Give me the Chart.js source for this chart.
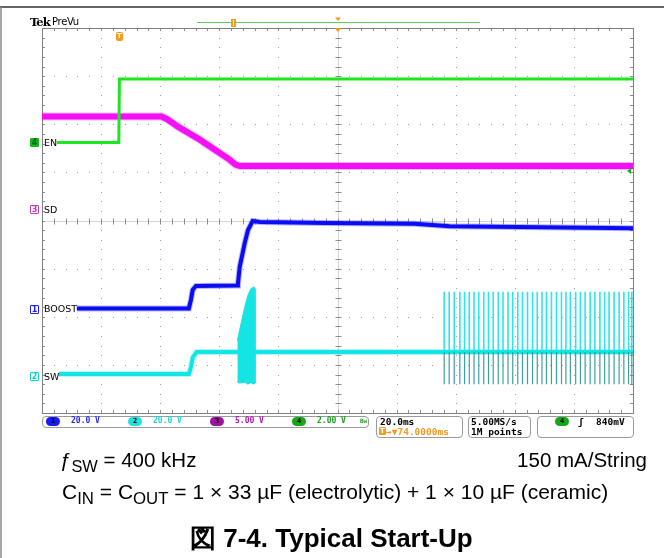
<!DOCTYPE html>
<html>
<head>
<meta charset="utf-8">
<script src="https://cdn.jsdelivr.net/npm/chart.js@4.4.1/dist/chart.umd.min.js"></script>
<style>
  body { margin: 0; background: #fff; }
  #wrap { position: relative; width: 664px; height: 558px; overflow: hidden; background: #fff; }
  #scope { position: absolute; left: 0; top: 0; }
  .t { position: absolute; white-space: nowrap; line-height: 1; }
  .scopefont { font-family: "DejaVu Sans Mono", monospace; font-weight: bold; }
  .box { position: absolute; border: 1px solid #9a9a9a; border-radius: 4px; box-sizing: border-box; }
  .dot { position: absolute; width: 14px; height: 9px; border-radius: 5px; font: bold 7px "DejaVu Sans Mono", monospace;
         color: #000; text-align: center; line-height: 9px; }
  .tag { position: absolute; width: 9px; height: 9px; box-sizing: border-box; border: 1px solid; border-radius: 1px;
         font: bold 8px "DejaVu Sans", sans-serif; text-align: center; line-height: 7px; }
  .lbl { position: absolute; font: 9.5px "DejaVu Sans", sans-serif; color: #000; line-height: 1; }
  .cap { position: absolute; font-family: "Liberation Sans", Arial, sans-serif; color: #000; white-space: nowrap; }
  .cap sub { font-size: 0.8em; vertical-align: -0.3em; line-height: 0; }
</style>
</head>
<body>
<div id="wrap">
  <canvas id="scope" width="664" height="558"></canvas>

  <!-- header -->
  <div class="t" style="left:30px; top:15px; font: bold 11.5px 'DejaVu Serif', serif; letter-spacing:-0.9px;">Tek</div>
  <div class="t" style="left:52px; top:16px; font: 10px 'DejaVu Sans', sans-serif; letter-spacing:-0.3px;">PreVu</div>
  <div class="t" style="left:116px; top:32px; width:7px; height:9px; background:#f59a1a; border-radius:2px; color:#fff;
       font: bold 7px 'DejaVu Sans', sans-serif; text-align:center; line-height:9px;">T</div>

  <!-- status bar -->
  <div class="box" style="left:42px; top:416px; width:327px; height:12px;"></div>
  <div class="box" style="left:376px; top:416px; width:87px; height:22px;"></div>
  <div class="box" style="left:468px; top:416px; width:63px; height:22px;"></div>
  <div class="box" style="left:537px; top:416px; width:97px; height:22px;"></div>

  <div class="t scopefont" style="left:380px; top:417px; font-size:9.5px; color:#000;">20.0ms</div>
  <div class="t" style="left:379px; top:427px; width:7px; height:8px; background:#f59a1a; border-radius:1px; color:#fff;
       font: bold 7px 'DejaVu Sans', sans-serif; text-align:center; line-height:8px;">T</div>
  <div class="t scopefont" style="left:386px; top:427px; font-size:9.5px; color:#f59a1a;">&#8594;&#9660;74.0000ms</div>
  <div class="t scopefont" style="left:471px; top:417px; font-size:9.5px; color:#000;">5.00MS/s</div>
  <div class="t scopefont" style="left:471px; top:427px; font-size:9.5px; color:#000;">1M points</div>
  <div class="dot" style="left:555px; top:417px; background:#14a814;">4</div>
  <div class="t scopefont" style="left:578px; top:417px; font-size:9.5px; color:#000;">&#643;</div>
  <div class="t scopefont" style="left:596px; top:417px; font-size:9.5px; color:#000;">840mV</div>

  <!-- captions -->
  <div class="cap" style="left:60px; top:448px; font-size:20.5px;">ƒ<sub>SW</sub> = 400 kHz</div>
  <div class="cap" style="right:17px; top:448px; font-size:20.5px;">150 mA/String</div>
  <div class="cap" style="left:62px; top:480px; font-size:21px;">C<sub>IN</sub> = C<sub>OUT</sub> = 1 × 33 µF (electrolytic) + 1 × 10 µF (ceramic)</div>
  <div class="cap" style="left:190px; top:521px; font-size:26px; font-weight:bold;">図 7-4. Typical Start-Up</div>
</div>

<script>
// Horizontal axis: ms relative to trigger (20 ms/div). Vertical axis: screen divisions (0 bottom .. 8 top)
const timeRange = [-26, 174];
const divRange = [0, 8];

// CH4 EN (2.00 V/div)
const enTime  = [-21.0, 0.0, 0.2, 174.0];
const enLevel = [5.62, 5.62, 6.94, 6.94];

// CH3 SD (5.00 V/div)
const sdTime  = [-26.0, 14.5, 16.5, 20.0, 27.4, 37.6, 39.5, 41.0, 174.0];
const sdLevel = [6.16, 6.16, 6.10, 5.95, 5.68, 5.26, 5.16, 5.13, 5.13];

// CH1 BOOST (20.0 V/div)
const boostTime  = [-14.2, 23.7, 24.4, 25.0, 26.1, 40.0, 40.3, 40.9, 42.6, 43.7, 45.3, 47.7, 70.0, 100.0, 112.0, 174.0];
const boostLevel = [2.17, 2.17, 2.35, 2.56, 2.64, 2.65, 2.68, 3.03, 3.53, 3.80, 3.99, 3.97, 3.95, 3.93, 3.88, 3.84];

// CH2 SW (20.0 V/div)
const swTime  = [-20.3, 23.7, 24.4, 25.0, 26.4, 174.0];
const swLevel = [0.81, 0.81, 0.95, 1.15, 1.27, 1.27];

// SW soft-start burst envelope
const burstTime   = [40.1, 40.9, 42.6, 43.7, 44.7, 45.7, 46.4];
const burstTop    = [1.50, 1.73, 2.20, 2.45, 2.58, 2.62, 2.56];
const burstBottom = [0.64, 0.62, 0.64, 0.60, 0.63, 0.60, 0.64];

// SW switching pulses after regulation settles
const pulseTime = [110.1, 111.8, 113.5, 115.4, 117.0, 118.6, 120.2, 121.8, 123.5, 125.1,
                   126.7, 128.4, 130.0, 131.7, 133.3, 135.0, 136.6, 138.3, 140.0, 141.6,
                   143.2, 144.7, 146.4, 148.1, 149.8, 151.3, 152.8, 154.6, 156.2, 157.8,
                   159.5, 161.1, 162.8, 164.4, 165.9, 167.6, 169.3, 170.9, 172.5, 173.6];
const pulseTop = 2.52;
const pulseBase = 1.27;
const pulseBottom = 0.60;

// channel ground markers
const chanNum   = ['4', '3', '1', '2'];
const chanName  = ['EN', 'SD', 'BOOST', 'SW'];
const chanLevel = [5.62, 4.22, 2.16, 0.75];
const chanColor = ['#14b814', '#c040c0', '#2020f0', '#10d0d0'];

// vertical scale readouts
const scaleNum   = ['1', '2', '3', '4'];
const scaleText  = ['20.0 V', '20.0 V', '5.00 V', '2.00 V'];
const scaleColor = ['#2a2af0', '#1ed8d8', '#b01cb0', '#1ea01e'];
const scaleDot   = ['#1818f8', '#22e0e0', '#a010a0', '#14a814'];

const triggerLevel = 5.03;

function pts(xs, ys) {
  return xs.map((x, i) => ({ x: x, y: ys[i] }));
}

function pulsePts(from, to) {
  const out = [];
  pulseTime.forEach(t => {
    out.push({ x: t, y: from }, { x: t, y: to }, { x: t, y: null });
  });
  return out;
}

function trace(data, color, width) {
  return { data: data, showLine: true, borderColor: color, borderWidth: width, pointRadius: 0,
           fill: false, tension: 0, spanGaps: false };
}

const green = '#1ee61e';
const magenta = '#f410f4';
const blue = '#0c0cf4';
const cyan = '#14e4e4';

const datasets = [
  trace(pts(enTime, enLevel), green, 3),
  trace(pts(sdTime, sdLevel), 'rgba(244,16,244,0.3)', 8),
  trace(pts(sdTime, sdLevel), magenta, 6),
  trace(pts(boostTime, boostLevel), 'rgba(12,12,244,0.3)', 6),
  trace(pts(boostTime, boostLevel), blue, 4),
  trace(pulsePts(pulseBase, pulseTop), 'rgba(20,228,228,0.9)', 1.6),
  trace(pulsePts(pulseBase, pulseBottom), 'rgba(40,150,150,0.9)', 1.2),
  trace(pts(swTime, swLevel), 'rgba(20,228,228,0.3)', 6),
  trace(pts(swTime, swLevel), cyan, 4),
  Object.assign(trace(pts(burstTime, burstTop), cyan, 1), { fill: '+1', backgroundColor: cyan }),
  trace(pts(burstTime, burstBottom), cyan, 1)
];

const graticule = {
  id: 'graticule',
  beforeDatasetsDraw(chart) {
    const { ctx, chartArea: a, scales: { x, y } } = chart;
    const xStep = (timeRange[1] - timeRange[0]) / 10;
    const xs = i => Math.round(x.getPixelForValue(timeRange[0] + i * xStep / 5)) + 0.5;
    const ys = j => Math.round(y.getPixelForValue(j / 5)) + 0.5;
    ctx.save();
    // dotted major lines
    ctx.fillStyle = '#a0a0a0';
    for (let i = 5; i < 50; i += 5) {
      for (let j = 0; j <= 40; j++) ctx.fillRect(xs(i) - 0.5, ys(j) - 0.5, 1, 1);
    }
    for (let j = 5; j < 40; j += 5) {
      for (let i = 0; i <= 50; i++) ctx.fillRect(xs(i) - 0.5, ys(j) - 0.5, 1, 1);
    }
    // centre cross
    ctx.strokeStyle = '#d4d4d4';
    ctx.lineWidth = 1;
    ctx.beginPath();
    ctx.moveTo(a.left, ys(20)); ctx.lineTo(a.right, ys(20));
    ctx.moveTo(xs(25), a.top); ctx.lineTo(xs(25), a.bottom);
    ctx.stroke();
    ctx.strokeStyle = '#8c8c8c';
    ctx.beginPath();
    for (let i = 0; i <= 50; i++) { ctx.moveTo(xs(i), ys(20) - 3); ctx.lineTo(xs(i), ys(20) + 3); }
    for (let j = 0; j <= 40; j++) { ctx.moveTo(xs(25) - 3, ys(j)); ctx.lineTo(xs(25) + 3, ys(j)); }
    // border ticks
    for (let i = 0; i <= 50; i++) {
      ctx.moveTo(xs(i), a.top); ctx.lineTo(xs(i), a.top + 3);
      ctx.moveTo(xs(i), a.bottom); ctx.lineTo(xs(i), a.bottom - 3);
    }
    for (let j = 0; j <= 40; j++) {
      ctx.moveTo(a.left, ys(j)); ctx.lineTo(a.left + 3, ys(j));
      ctx.moveTo(a.right, ys(j)); ctx.lineTo(a.right - 3, ys(j));
    }
    ctx.stroke();
    ctx.strokeStyle = '#808080';
    ctx.strokeRect(Math.round(a.left) + 0.5, Math.round(a.top) + 0.5,
                   Math.round(a.right - a.left), Math.round(a.bottom - a.top));
    ctx.restore();
  },
  afterDatasetsDraw(chart) {
    const { ctx, chartArea: a, scales: { x, y } } = chart;
    ctx.save();
    // page frame
    ctx.strokeStyle = '#333';
    ctx.lineWidth = 1.5;
    ctx.beginPath(); ctx.moveTo(0, 7); ctx.lineTo(664, 7); ctx.stroke();
    ctx.strokeStyle = '#8a8a8a';
    ctx.beginPath(); ctx.moveTo(1, 7); ctx.lineTo(1, 558); ctx.stroke();
    // record-length bar in header
    ctx.strokeStyle = '#5ccc5c';
    ctx.lineWidth = 1;
    ctx.beginPath(); ctx.moveTo(197, 22.5); ctx.lineTo(480, 22.5); ctx.stroke();
    ctx.fillStyle = '#f59a1a';
    ctx.fillRect(231, 19, 5, 8);
    ctx.fillStyle = '#fff';
    ctx.fillRect(233, 20, 1, 6);
    // trigger position markers
    const cx = Math.round(x.getPixelForValue((timeRange[0] + timeRange[1]) / 2));
    ctx.fillStyle = '#f59a1a';
    ctx.beginPath(); ctx.moveTo(cx - 3, 17.5); ctx.lineTo(cx + 3, 17.5); ctx.lineTo(cx, 21); ctx.fill();
    ctx.beginPath(); ctx.moveTo(cx - 3.5, a.top); ctx.lineTo(cx + 3.5, a.top); ctx.lineTo(cx, a.top + 4); ctx.fill();
    // trigger level arrow
    const ty = y.getPixelForValue(triggerLevel);
    ctx.fillStyle = '#14b814';
    ctx.beginPath(); ctx.moveTo(a.right - 6, ty); ctx.lineTo(a.right - 2, ty - 3); ctx.lineTo(a.right - 2, ty + 3); ctx.fill();
    ctx.restore();
  }
};

const chart = new Chart(document.getElementById('scope'), {
  type: 'scatter',
  data: { datasets: datasets },
  options: {
    responsive: false,
    animation: false,
    events: [],
    layout: { padding: { left: 42, top: 28, right: 31, bottom: 145 } },
    plugins: { legend: { display: false }, tooltip: { enabled: false } },
    scales: {
      x: { type: 'linear', min: timeRange[0], max: timeRange[1], display: false },
      y: { type: 'linear', min: divRange[0], max: divRange[1], display: false }
    }
  },
  plugins: [graticule]
});

// channel labels on the left edge, placed with the chart's own y scale
const wrap = document.getElementById('wrap');
chanName.forEach((name, i) => {
  const py = chart.scales.y.getPixelForValue(chanLevel[i]);
  const tag = document.createElement('div');
  tag.className = 'tag';
  tag.textContent = chanNum[i];
  tag.style.left = '30px';
  tag.style.top = (py - 4.5) + 'px';
  tag.style.borderColor = chanColor[i];
  if (i === 0) { tag.style.background = chanColor[i]; tag.style.color = '#063'; }
  else { tag.style.background = '#fff'; tag.style.color = chanColor[i]; }
  wrap.appendChild(tag);
  const lbl = document.createElement('div');
  lbl.className = 'lbl';
  lbl.textContent = name;
  lbl.style.left = '44px';
  lbl.style.top = (py - 5) + 'px';
  wrap.appendChild(lbl);
});

// vertical scale readouts in the status bar
const dotLeft = [46, 128, 210, 292];
scaleNum.forEach((n, i) => {
  const d = document.createElement('div');
  d.className = 'dot';
  d.textContent = n;
  d.style.left = dotLeft[i] + 'px';
  d.style.top = '417px';
  d.style.background = scaleDot[i];
  wrap.appendChild(d);
  const s = document.createElement('div');
  s.className = 't scopefont';
  s.textContent = scaleText[i];
  s.style.left = (dotLeft[i] + 25) + 'px';
  s.style.top = '417px';
  s.style.fontSize = '8px';
  s.style.color = scaleColor[i];
  wrap.appendChild(s);
});
const bw = document.createElement('div');
bw.className = 't scopefont';
bw.textContent = 'Bw';
bw.style.cssText += 'left:360px; top:418px; font-size:6px; color:#1ea01e;';
wrap.appendChild(bw);
</script>
</body>
</html>
